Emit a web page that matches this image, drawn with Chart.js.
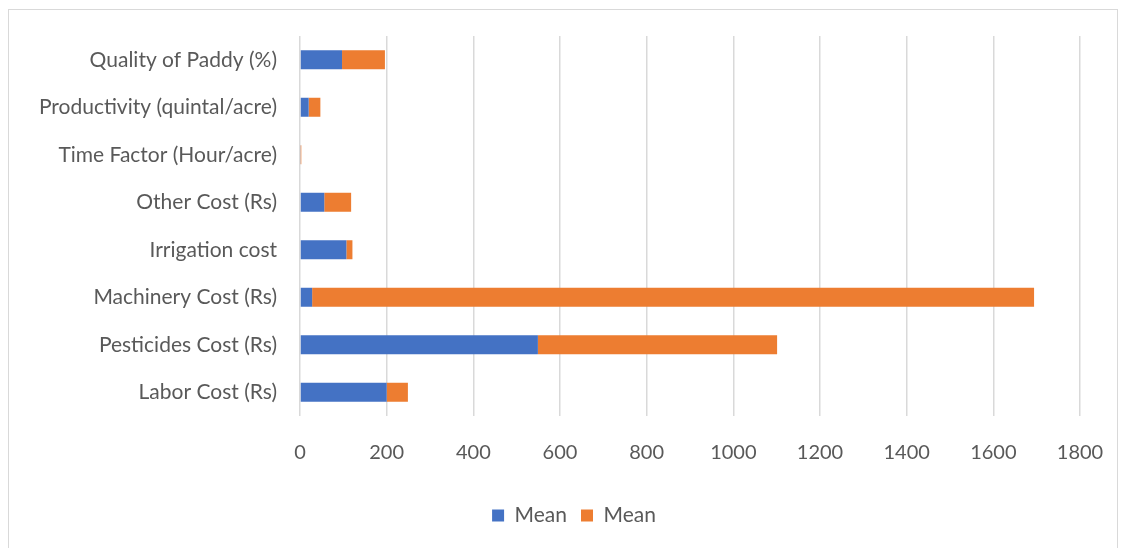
<!DOCTYPE html>
<html>
<head>
<meta charset="utf-8">
<script src="https://cdn.jsdelivr.net/npm/chart.js@4.4.1/dist/chart.umd.min.js"></script>
<style>
  body { margin: 0; background: #fff; }
  #wrap { position: relative; width: 1122px; height: 548px; overflow: hidden; }
  #frame { position: absolute; left: 8px; top: 9px; width: 1110px; height: 600px; border: 1.5px solid #d9d9d9; box-sizing: border-box; }
  canvas { position: absolute; left: 0; top: 0; }
</style>
</head>
<body>
<div id="wrap">
  <div id="frame"></div>
  <canvas id="myChart1" width="1122" height="548"></canvas>
</div>
<script>
// categories, top to bottom as in the picture
const categories = [
  "Quality of Paddy (%)",
  "Productivity (quintal/acre)",
  "Time Factor (Hour/acre)",
  "Other Cost (Rs)",
  "Irrigation cost",
  "Machinery Cost (Rs)",
  "Pesticides Cost (Rs)",
  "Labor Cost (Rs)"
];
const meanBlue   = [97, 20, 1.5, 56, 107, 28, 549, 200];
const meanOrange = [99, 27, 1.5, 62, 14, 1666, 552, 49];
const xTicks = [0, 200, 400, 600, 800, 1000, 1200, 1400, 1600, 1800];

const textColor = "#595959";
const fontFamily = "Lato, 'Open Sans', sans-serif";

// move the legend a bit right, like the Excel original
const legendShift = {
  id: 'legendShift',
  afterLayout(chart) {
    chart.legend.left += 34;
    chart.legend.right += 34;
  }
};

var ctx = document.getElementById('myChart1').getContext('2d');
var myChart = new Chart(ctx, {
  type: 'bar',
  data: {
    labels: categories,
    datasets: [{
      label: "Mean",
      data: meanBlue,
      backgroundColor: "#4472C4",
      categoryPercentage: 1,
      barPercentage: 0.4
    }, {
      label: "Mean",
      data: meanOrange,
      backgroundColor: "#ED7D31",
      categoryPercentage: 1,
      barPercentage: 0.4
    }]
  },
  plugins: [legendShift],
  options: {
    responsive: false,
    animation: false,
    indexAxis: 'y',
    layout: { padding: { left: 0, right: 42, top: 36, bottom: 12 } },
    plugins: {
      tooltip: { enabled: false },
      legend: {
        position: 'bottom',
        labels: {
          color: textColor,
          font: { family: fontFamily, size: 21 },
          boxWidth: 12,
          boxHeight: 12,
          padding: 14
        }
      }
    },
    scales: {
      x: {
        stacked: true,
        min: 0,
        max: 1800,
        afterBuildTicks: s => { s.ticks = xTicks.map(v => ({ value: v })); },
        afterFit: s => { s.height = 75; s.paddingLeft = 0; s.paddingRight = 0; },
        border: { display: false },
        grid: { color: "#d9d9d9", lineWidth: 1.5, drawTicks: false },
        ticks: {
          color: textColor,
          font: { family: fontFamily, size: 20 },
          padding: 25,
          callback: v => String(v)
        }
      },
      y: {
        stacked: true,
        afterFit: s => { s.width = 300; s.paddingTop = 0; s.paddingBottom = 0; },
        border: { display: false },
        grid: { display: false, drawTicks: false },
        ticks: { color: textColor, font: { family: fontFamily, size: 21 }, padding: 23 }
      }
    }
  }
});
</script>
</body>
</html>
